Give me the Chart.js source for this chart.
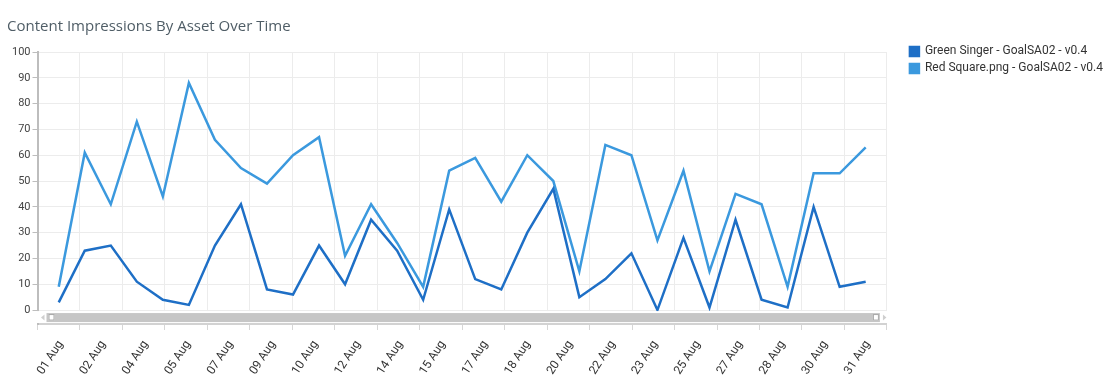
<!DOCTYPE html>
<html>
<head>
<meta charset="utf-8">
<script src="https://cdn.jsdelivr.net/npm/chart.js@4.4.1/dist/chart.umd.min.js"></script>
<style>
  html, body { margin: 0; padding: 0; background: #fff; }
  canvas { display: block; }
</style>
</head>
<body>
<canvas id="chart" width="1113" height="387"></canvas>
<script>
/* Content impressions by asset — line chart with a fake amCharts-style scrollbar. */

const TITLE = "Content Impressions By Asset Over Time";
const DATE_LABELS = ["01 Aug", "02 Aug", "04 Aug", "05 Aug", "07 Aug", "09 Aug", "10 Aug",
  "12 Aug", "14 Aug", "15 Aug", "17 Aug", "18 Aug", "20 Aug", "22 Aug", "23 Aug", "25 Aug",
  "27 Aug", "28 Aug", "30 Aug", "31 Aug"];
const SERIES_NAMES = ["Green Singer - GoalSA02 - v0.4", "Red Square.png - GoalSA02 - v0.4"];
const GREEN_SINGER = [3, 23, 25, 11, 4, 2, 25, 41, 8, 6, 25, 10, 35, 23, 4, 39,
  12, 8, 30, 47, 5, 12, 22, 0, 28, 1, 35, 4, 1, 40, 9, 11];
const RED_SQUARE = [9, 61, 41, 73, 44, 88, 66, 55, 49, 60, 67, 21, 41, 26, 9, 54,
  59, 42, 60, 50, 15, 64, 60, 27, 54, 15, 45, 41, 9, 53, 53, 63];
const Y_TICKS = [0, 10, 20, 30, 40, 50, 60, 70, 80, 90, 100];

const DARK = "#1e6fc6";
const LIGHT = "#3b99de";

// points sit at the centre of the first and last label bins
const halfBin = (GREEN_SINGER.length - 1) / (2 * (DATE_LABELS.length - 1));
const toPoints = arr => arr.map((v, i) => ({ x: i, y: v }));

const scrollbar = {
  id: "scrollbar",
  afterDraw(chart) {
    const { ctx, chartArea: a, scales: { y } } = chart;
    const y0 = y.getPixelForValue(0);
    ctx.save();
    ctx.fillStyle = "#fff";
    ctx.fillRect(a.left - 3, y0 + 1, a.right - a.left + 6, a.bottom - y0 - 2);
    const top = y0 + 3, h = 9;
    ctx.fillStyle = "#c6c6c6";
    ctx.fillRect(a.left + 9, top, a.right - a.left - 16, h);
    // handles
    ctx.fillStyle = "#fff";
    ctx.strokeStyle = "#a8a8a8";
    ctx.lineWidth = 1;
    ctx.fillRect(a.left + 11, top + 1.5, 6, 6);
    ctx.strokeRect(a.left + 11.5, top + 1.5, 5, 5.5);
    ctx.fillRect(a.right - 14, top + 1.5, 6, 6);
    ctx.strokeRect(a.right - 13.5, top + 1.5, 5, 5.5);
    // arrows
    ctx.fillStyle = "#cfcfcf";
    ctx.beginPath();
    ctx.moveTo(a.left + 3.5, top + h / 2);
    ctx.lineTo(a.left + 7, top + 1.5);
    ctx.lineTo(a.left + 7, top + h - 1.5);
    ctx.fill();
    ctx.beginPath();
    ctx.moveTo(a.right - 0.5, top + h / 2);
    ctx.lineTo(a.right - 4, top + 1.5);
    ctx.lineTo(a.right - 4, top + h - 1.5);
    ctx.fill();
    ctx.restore();
  }
};

new Chart(document.getElementById("chart"), {
  type: "line",
  data: {
    labels: DATE_LABELS,
    datasets: [
      { label: SERIES_NAMES[0], data: toPoints(GREEN_SINGER), xAxisID: "x2",
        borderColor: DARK, backgroundColor: DARK, borderWidth: 2.5, pointRadius: 0, tension: 0 },
      { label: SERIES_NAMES[1], data: toPoints(RED_SQUARE), xAxisID: "x2",
        borderColor: LIGHT, backgroundColor: LIGHT, borderWidth: 2.5, pointRadius: 0, tension: 0 },
    ],
  },
  options: {
    responsive: false,
    animation: false,
    layout: { padding: { left: 7, right: 0, top: 0, bottom: 0 } },
    plugins: {
      title: {
        display: true, text: TITLE, align: "start", color: "#4f5d66",
        font: { family: "'Open Sans'", size: 15, weight: "normal" },
        padding: { top: 18, bottom: 16 },
      },
      legend: {
        position: "right", align: "start", maxWidth: 260,
        title: { display: true, text: " ", font: { size: 12 }, padding: { top: 0, bottom: 26 } },
        labels: { boxWidth: 9, boxHeight: 9, padding: 5, color: "#333",
          font: { family: "Roboto", size: 12 } },
      },
      tooltip: { enabled: false },
    },
    scales: {
      x: {
        type: "category", offset: true,
        grid: { offset: true, color: "#ececec", tickColor: "#d6d6d6", tickLength: 6 },
        border: { color: "#d2d2d2", width: 2 },
        ticks: { color: "#333", font: { family: "Roboto", size: 12 }, labelOffset: 2,
          minRotation: 57, maxRotation: 57, autoSkip: false, padding: 8 },
        afterFit(s) { s.height = 387 - 324; },
      },
      x2: {
        type: "linear", display: false,
        min: -halfBin, max: GREEN_SINGER.length - 1 + halfBin,
      },
      y: {
        min: -5.4, max: 100,
        afterBuildTicks(s) { s.ticks = Y_TICKS.map(v => ({ value: v })); },
        grid: { color: "#ececec", tickColor: "#bdbdbd", tickLength: 5 },
        border: { color: "#bdbdbd", width: 2 },
        ticks: { color: "#444", font: { family: "Roboto", size: 11 }, padding: 2 },
        afterFit(s) { s.width = 30.5; },
      },
      gap: {
        type: "linear", position: "right", display: true,
        grid: { display: false, drawTicks: false }, border: { display: false },
        ticks: { display: false },
        afterFit(s) { s.width = 18; },
      },
    },
  },
  plugins: [scrollbar],
});
</script>
</body>
</html>
